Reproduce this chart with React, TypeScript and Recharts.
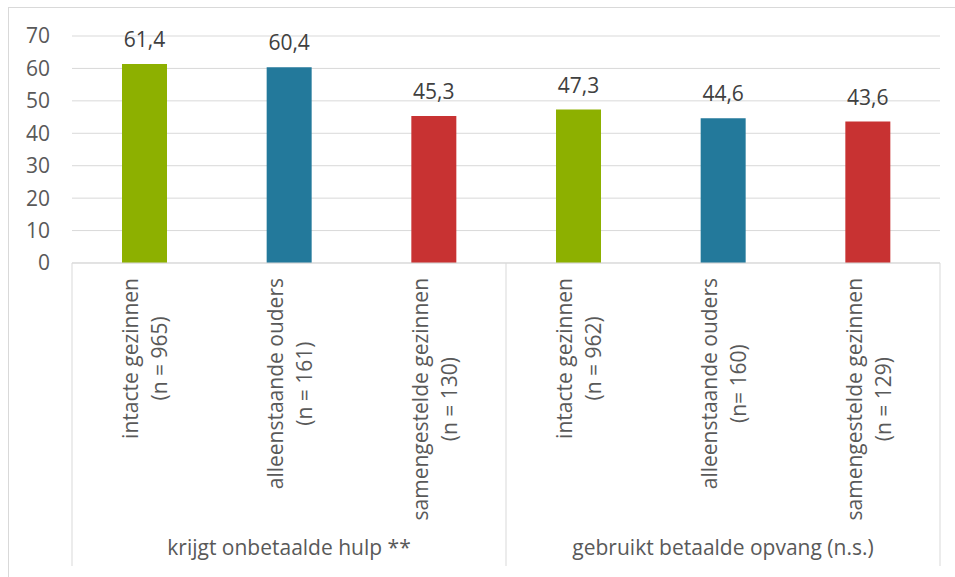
import React from 'react';
import { BarChart, Bar, XAxis, YAxis, CartesianGrid, LabelList, Cell } from 'recharts';

const groups = ['krijgt onbetaalde hulp **', 'gebruikt betaalde opvang (n.s.)'];
const categoryLine1 = ['intacte gezinnen', 'alleenstaande ouders', 'samengestelde gezinnen', 'intacte gezinnen', 'alleenstaande ouders', 'samengestelde gezinnen'];
const categoryLine2 = ['(n = 965)', '(n = 161)', '(n = 130)', '(n = 962)', '(n= 160)', '(n = 129)'];
const categoryGroup = [0, 0, 0, 1, 1, 1];
const values = [61.4, 60.4, 45.3, 47.3, 44.6, 43.6];
const colors = ['#8DB000', '#23799B', '#C83232', '#8DB000', '#23799B', '#C83232'];
const yTicks = [0, 10, 20, 30, 40, 50, 60, 70];

const data = values.map((v, i) => ({
  name: String(i),
  value: v,
  line1: categoryLine1[i],
  line2: categoryLine2[i],
  group: categoryGroup[i],
}));

const W = 955;
const H = 577;
const M = { top: 36, right: 15, bottom: 0, left: 8 };
const Y_W = 64;
const PLOT_W = W - M.left - M.right - Y_W;
const BAND = PLOT_W / data.length;
const FONT = '"Open Sans", sans-serif';
const FS = 21;

let ctx: CanvasRenderingContext2D | null = null;
function measure(t: string): number {
  if (!ctx) ctx = document.createElement('canvas').getContext('2d');
  if (!ctx) return t.length * FS * 0.5;
  ctx.font = `${FS}px "Open Sans"`;
  return ctx.measureText(t).width;
}

const groupMiddle = (g: number) => {
  const idx = data.map((d, i) => (d.group === g ? i : -1)).filter((i) => i >= 0);
  return idx[Math.floor(idx.length / 2)];
};
const groupFirst = (g: number) => data.findIndex((d) => d.group === g);

const XTick = (props: any) => {
  const { x, y, index } = props;
  const d = data[index];
  if (!d) return null;
  const maxW = Math.max(measure(d.line1), measure(d.line2));
  const cx = -15 - maxW / 2;
  const sepBottom = H - 11 - y;
  const lines: React.ReactNode[] = [];
  if (groupFirst(d.group) === index) {
    lines.push(<line key="sl" x1={x - BAND / 2} x2={x - BAND / 2} y1={y} y2={y + sepBottom} stroke="#D9D9D9" strokeWidth={1} />);
  }
  if (index === data.length - 1) {
    lines.push(<line key="sr" x1={x + BAND / 2} x2={x + BAND / 2} y1={y} y2={y + sepBottom} stroke="#D9D9D9" strokeWidth={1} />);
  }
  return (
    <g>
      {lines}
      <g transform={`translate(${x},${y}) rotate(-90)`}>
        <text x={cx} y={-6} textAnchor="middle" fill="#595959" fontSize={FS} fontFamily={FONT}>{d.line1}</text>
        <text x={cx} y={23} textAnchor="middle" fill="#595959" fontSize={FS} fontFamily={FONT}>{d.line2}</text>
      </g>
      {groupMiddle(d.group) === index && (
        <text x={x} y={H - 22} textAnchor="middle" fill="#595959" fontSize={FS} fontFamily={FONT}>{groups[d.group]}</text>
      )}
    </g>
  );
};

export default function App() {
  return (
    <div style={{ position: 'absolute', left: 0, top: 0, width: W, height: H, background: '#fff', fontFamily: FONT }}>
      <div style={{ position: 'absolute', left: 8, top: 7, width: W, height: H, borderTop: '1px solid #D9D9D9', borderLeft: '1px solid #D9D9D9' }} />
      <BarChart width={W} height={H} data={data} margin={M}>
        <CartesianGrid vertical={false} stroke="#D9D9D9" strokeWidth={1} />
        <YAxis
          width={Y_W}
          domain={[0, 70]}
          ticks={yTicks}
          interval={0}
          axisLine={false}
          tickLine={false}
          tickSize={0}
          tickMargin={22}
          tick={{ fill: '#595959', fontSize: FS, fontFamily: FONT }}
        />
        <XAxis
          dataKey="name"
          height={H - M.top - M.bottom - 227}
          interval={0}
          axisLine={{ stroke: '#D9D9D9' }}
          tickLine={false}
          tickSize={0}
          tickMargin={0}
          tick={<XTick />}
        />
        <Bar dataKey="value" barSize={45} isAnimationActive={false}>
          {data.map((d, i) => (
            <Cell key={i} fill={colors[i]} />
          ))}
          <LabelList
            dataKey="value"
            position="top"
            offset={17}
            fill="#404040"
            fontSize={FS}
            fontFamily={FONT}
            formatter={(v: any) => String(v).replace('.', ',')}
          />
        </Bar>
      </BarChart>
    </div>
  );
}
